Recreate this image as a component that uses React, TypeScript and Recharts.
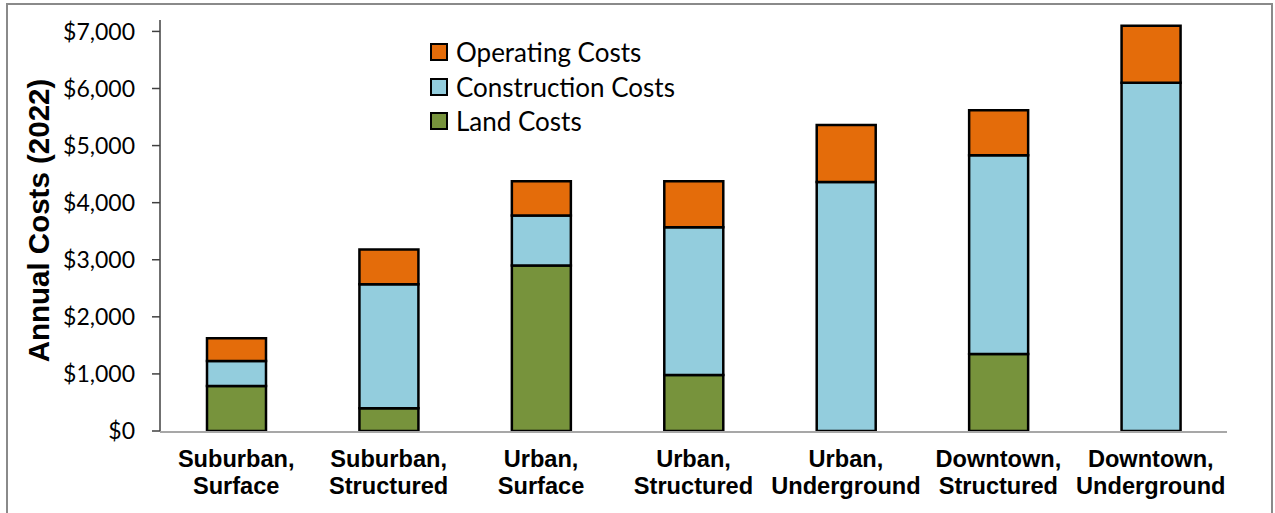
import React from 'react';
import { BarChart, Bar, XAxis, YAxis, Legend } from 'recharts';

const categories = [
  'Suburban,\nSurface',
  'Suburban,\nStructured',
  'Urban,\nSurface',
  'Urban,\nStructured',
  'Urban,\nUnderground',
  'Downtown,\nStructured',
  'Downtown,\nUnderground',
];
const landCosts = [790, 400, 2900, 980, 0, 1350, 0];
const constructionCosts = [435, 2170, 875, 2590, 4360, 3480, 6100];
const operatingCosts = [400, 610, 600, 805, 1000, 790, 1000];
const yTicks = [0, 1000, 2000, 3000, 4000, 5000, 6000, 7000];
const boundaryTicks = [0, 1, 2, 3, 4, 5, 6, 7];

const seriesInfo = [
  { key: 'operating', name: 'Operating Costs', color: '#E46C0A' },
  { key: 'construction', name: 'Construction Costs', color: '#93CDDD' },
  { key: 'land', name: 'Land Costs', color: '#77933C' },
];

const data = categories.map((c, i) => ({
  category: c,
  land: landCosts[i],
  construction: constructionCosts[i],
  operating: operatingCosts[i],
}));

const fmt = (v: number) => '$' + v.toLocaleString('en-US');

const XTick = (props: any) => {
  const { x, y, payload } = props;
  const lines = String(payload.value).split('\n');
  return (
    <text
      x={x}
      y={y}
      textAnchor="middle"
      fontFamily="'Liberation Sans', Arial, sans-serif"
      fontWeight="bold"
      fontSize={23.6}
      fill="#000"
    >
      {lines.map((l, i) => (
        <tspan key={i} x={x} y={y + 36 + i * 27}>
          {l}
        </tspan>
      ))}
    </text>
  );
};

const YLabel = (props: any) => {
  const vb = props.viewBox || {};
  const cx = vb.x - 22;
  const cy = vb.y + vb.height / 2 - 5;
  return (
    <text
      x={cx}
      y={cy}
      transform={`rotate(-90, ${cx}, ${cy})`}
      textAnchor="middle"
      dominantBaseline="central"
      fontFamily="'Liberation Sans', Arial, sans-serif"
      fontWeight="bold"
      fontSize={29.5}
      fill="#000"
    >
      Annual Costs (2022)
    </text>
  );
};

const LegendContent = () => (
  <div style={{ fontFamily: 'Lato, sans-serif', fontSize: 26, color: '#000', lineHeight: 1 }}>
    {seriesInfo.map((s) => (
      <div key={s.key} style={{ display: 'flex', alignItems: 'center', height: 34.6 }}>
        <span
          style={{
            display: 'inline-block',
            width: 14,
            height: 14,
            background: s.color,
            border: '2px solid #000',
            marginRight: 8,
          }}
        />
        <span>{s.name}</span>
      </div>
    ))}
  </div>
);

export default function App() {
  return (
    <div style={{ position: 'absolute', left: 0, top: 0, width: 1275, height: 513, background: '#fff', overflow: 'hidden' }}>
      <div
        style={{
          position: 'absolute',
          left: 6,
          top: 3,
          width: 1267,
          height: 530,
          border: '2px solid #8a8a8a',
          boxSizing: 'border-box',
        }}
      />
      <div style={{ position: 'absolute', left: 0, top: 0 }}>
        <BarChart
          width={1275}
          height={513}
          data={data}
          margin={{ top: 20, right: 48, left: 60, bottom: 80 }}
        >
          <XAxis
            dataKey="category"
            height={1}
            axisLine={false}
            tickLine={false}
            tickSize={0}
            tickMargin={0}
            interval={0}
            tick={<XTick />}
          />
          <XAxis
            xAxisId="bounds"
            type="number"
            domain={[0, 7]}
            ticks={boundaryTicks}
            height={1}
            tick={false}
            tickSize={6}
            axisLine={{ stroke: '#8a8a8a', strokeWidth: 1.5 }}
            tickLine={{ stroke: '#8a8a8a', strokeWidth: 1.5 }}
          />
          <YAxis
            width={100}
            domain={[0, 7200]}
            ticks={yTicks}
            tickFormatter={fmt}
            allowDataOverflow
            tickSize={8}
            tickMargin={17}
            axisLine={{ stroke: '#404040', strokeWidth: 1.5 }}
            tickLine={{ stroke: '#404040', strokeWidth: 1.5 }}
            tick={{ fontFamily: 'Lato, sans-serif', fontSize: 23, fill: '#000' }}
            label={<YLabel />}
          />
          <Legend
            layout="vertical"
            align="center"
            verticalAlign="middle"
            wrapperStyle={{ left: 430, top: 35, width: 320, height: 110 }}
            content={<LegendContent />}
          />
          <Bar dataKey="land" name="Land Costs" stackId="a" fill="#77933C" stroke="#000" strokeWidth={2.5} barSize={59} isAnimationActive={false} />
          <Bar dataKey="construction" name="Construction Costs" stackId="a" fill="#93CDDD" stroke="#000" strokeWidth={2.5} barSize={59} isAnimationActive={false} />
          <Bar dataKey="operating" name="Operating Costs" stackId="a" fill="#E46C0A" stroke="#000" strokeWidth={2.5} barSize={59} isAnimationActive={false} />
        </BarChart>
      </div>
    </div>
  );
}
